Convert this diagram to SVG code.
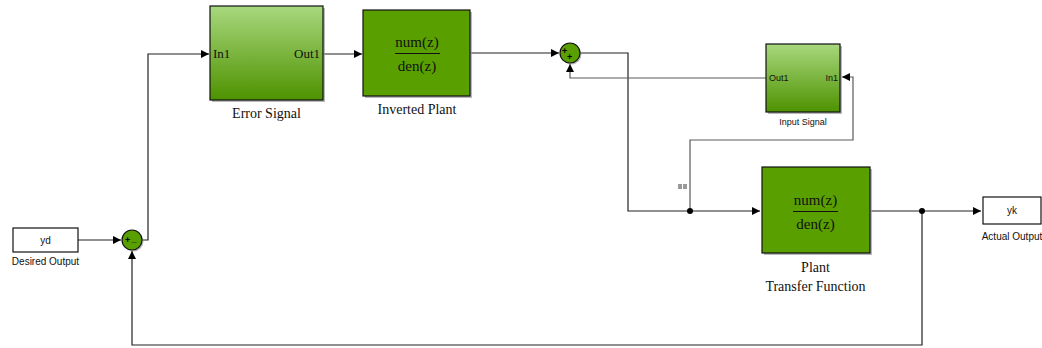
<svg xmlns="http://www.w3.org/2000/svg" width="1042" height="348" viewBox="0 0 1042 348">
<style>
.w{fill:none;stroke:#222;stroke-width:1.2}
.g{fill:none;stroke:#5a5a5a;stroke-width:1.2}
.blk{stroke:#111;stroke-width:1.2}
.sh{fill:#9a9a9a;opacity:0.7}
.tf{fill:#5a9f00}
.ser{font-family:"Liberation Serif",serif;fill:#111}
.san{font-family:"Liberation Sans",Arial,sans-serif;fill:#111}
.sg{font-family:"Liberation Sans",Arial,sans-serif;fill:#000;font-weight:bold;font-size:9px}
</style>
<defs>
<linearGradient id="gr" x1="0" y1="0" x2="0" y2="1">
<stop offset="0" stop-color="#a8d87e"/>
<stop offset="1" stop-color="#4e9200"/>
</linearGradient>
<marker id="ar" viewBox="0 0 10 10" refX="10" refY="5" markerWidth="9" markerHeight="8" markerUnits="userSpaceOnUse" orient="auto">
<path d="M0,0 L10,5 L0,10 z" fill="#000"/>
</marker>
</defs>
<g id="connectors">
<path class="w" d="M78,240 H121" marker-end="url(#ar)"/>
<path class="w" d="M142,240 H148 V54 H209" marker-end="url(#ar)"/>
<path class="w" d="M323,54 H362" marker-end="url(#ar)"/>
<path class="w" d="M470,53 H559" marker-end="url(#ar)"/>
<path class="w" d="M580,53 H628 V211 H760" marker-end="url(#ar)"/>
<path class="g" d="M690,211 V140 H853 V77 H842" marker-end="url(#ar)"/>
<path class="g" d="M766,78 H570 V64" marker-end="url(#ar)"/>
<path class="w" d="M871,211 H981" marker-end="url(#ar)"/>
<path class="w" d="M922,211 V345 H132 V251" marker-end="url(#ar)"/>
<circle cx="690" cy="211" r="3" fill="#000"/>
<circle cx="922" cy="211" r="3" fill="#000"/>
<rect x="678" y="184" width="4" height="5" fill="#999"/>
<rect x="683" y="184" width="4" height="5" fill="#999"/>
</g>
<g id="desired-output">
<rect x="13" y="228" width="65" height="24" fill="#fff" class="blk"/>
<text x="45.5" y="244" class="san" font-size="10" text-anchor="middle">yd</text>
<text x="45.5" y="265" class="san" font-size="10" text-anchor="middle">Desired Output</text>
</g>
<g id="sum1">
<circle cx="133.5" cy="241.5" r="10" class="sh"/>
<circle cx="132" cy="240" r="10" class="tf blk"/>
<text x="125" y="243" class="sg">+</text>
<text x="131.5" y="242" class="sg">_</text>
</g>
<g id="error-signal">
<rect x="212" y="8" width="113" height="94" class="sh"/>
<rect x="210" y="6" width="113" height="94" fill="url(#gr)" class="blk"/>
<text x="213" y="58" class="ser" font-size="13">In1</text>
<text x="320" y="58" class="ser" font-size="13" text-anchor="end">Out1</text>
<text x="266.5" y="118" class="ser" font-size="14" text-anchor="middle">Error Signal</text>
</g>
<g id="inverted-plant">
<rect x="365" y="12" width="107" height="86" class="sh"/>
<rect x="363" y="10" width="107" height="86" class="tf blk"/>
<text x="417" y="47" class="ser" font-size="15" text-anchor="middle">num(z)</text>
<line x1="395" y1="53.5" x2="440" y2="53.5" stroke="#111" stroke-width="1.2"/>
<text x="417" y="71" class="ser" font-size="15" text-anchor="middle">den(z)</text>
<text x="417" y="114" class="ser" font-size="14" text-anchor="middle">Inverted Plant</text>
</g>
<g id="sum2">
<circle cx="571.5" cy="54.5" r="10" class="sh"/>
<circle cx="570" cy="53" r="10" class="tf blk"/>
<text x="562" y="54" class="sg">+</text>
<text x="567" y="60" class="sg">+</text>
</g>
<g id="input-signal">
<rect x="768" y="46" width="74" height="68" class="sh"/>
<rect x="766" y="44" width="74" height="68" fill="url(#gr)" class="blk"/>
<text x="769" y="81" class="san" font-size="9">Out1</text>
<text x="838" y="81" class="san" font-size="9" text-anchor="end">In1</text>
<text x="803" y="125" class="san" font-size="9" text-anchor="middle">Input Signal</text>
</g>
<g id="plant">
<rect x="764" y="169" width="108" height="86" class="sh"/>
<rect x="762" y="167" width="108" height="86" class="tf blk"/>
<text x="815.5" y="205" class="ser" font-size="15" text-anchor="middle">num(z)</text>
<line x1="793" y1="211.5" x2="838" y2="211.5" stroke="#111" stroke-width="1.2"/>
<text x="815.5" y="229" class="ser" font-size="15" text-anchor="middle">den(z)</text>
<text x="815.5" y="272" class="ser" font-size="14" text-anchor="middle">Plant</text>
<text x="815.5" y="291" class="ser" font-size="14" text-anchor="middle">Transfer Function</text>
</g>
<g id="actual-output">
<rect x="983" y="197" width="58" height="27" fill="#fff" class="blk"/>
<text x="1012" y="214" class="san" font-size="10" text-anchor="middle">yk</text>
<text x="1012" y="240" class="san" font-size="10" text-anchor="middle">Actual Output</text>
</g>
</svg>
